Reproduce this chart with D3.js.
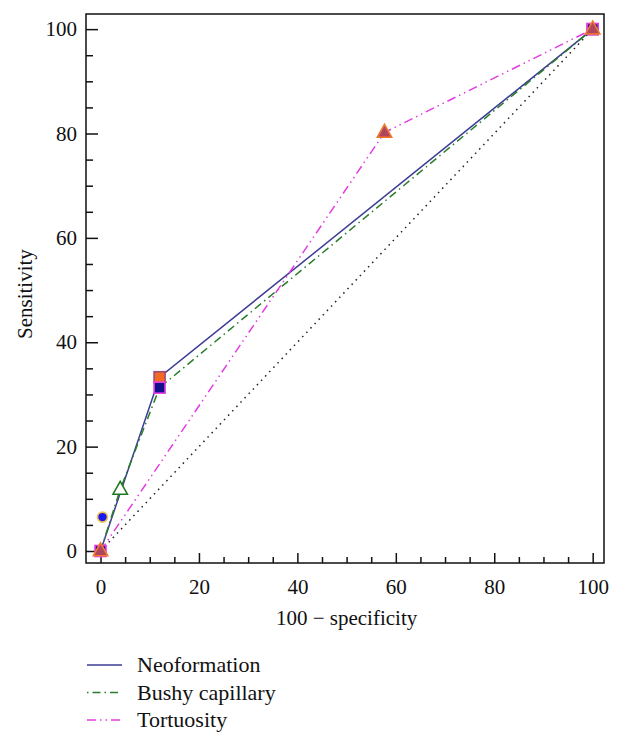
<!DOCTYPE html>
<html><head><meta charset="utf-8">
<script src="https://cdn.jsdelivr.net/npm/d3@7"></script>
<style>body{margin:0;background:#fff}svg{display:block}</style>
</head><body>
<svg id="c" width="621" height="744"></svg>
<script>
// data
const neoX = [0, 12, 100];
const neoY = [0, 33.3, 100];
const bushyX = [0, 4, 12, 100];
const bushyY = [0, 11.8, 31.3, 100];
const tortX = [0, 57.7, 100];
const tortY = [0, 80.2, 100];
const extraX = [0.4];
const extraY = [6.5];
const refX = [0, 100];
const refY = [0, 100];
const majorTicks = [0, 20, 40, 60, 80, 100];
const minorTicks = [5,10,15,25,30,35,45,50,55,65,70,75,85,90,95];
const seriesNames = ["Neoformation", "Bushy capillary", "Tortuosity"];
const xTitle = "100 \u2212 specificity";
const yTitle = "Sensitivity";

const FONT = "'Liberation Serif', 'Times New Roman', serif";
const svg = d3.select("#c");
const x = d3.scaleLinear().domain([-2.95, 102.3]).range([86, 604]);
const y = d3.scaleLinear().domain([-2.3, 102.9]).range([563, 14]);
const fs = 21;

// axes
const gx = svg.append("g").attr("transform", `translate(0,${y.range()[0]})`)
  .call(d3.axisBottom(x).tickValues(majorTicks).tickSize(-10).tickPadding(16).tickFormat(d3.format("d")));
const gxm = svg.append("g").attr("transform", `translate(0,${y.range()[0]})`)
  .call(d3.axisBottom(x).tickValues(minorTicks).tickSize(-6).tickFormat(""));
const gy = svg.append("g").attr("transform", `translate(${x.range()[0]},0)`)
  .call(d3.axisLeft(y).tickValues(majorTicks).tickSize(-12).tickPadding(9).tickFormat(d3.format("d")));
const gym = svg.append("g").attr("transform", `translate(${x.range()[0]},0)`)
  .call(d3.axisLeft(y).tickValues(minorTicks).tickSize(-7).tickFormat(""));
[gx, gxm, gy, gym].forEach(g => {
  g.attr("font-family", null).attr("font-size", null);
  g.select(".domain").remove();
  g.selectAll("line").attr("stroke", "#111").attr("stroke-width", 1.5);
  g.selectAll("text").style("font-size", fs + "px").style("font-family", FONT).attr("fill", "#111");
});

// frame
svg.append("rect").attr("x", x.range()[0]).attr("y", y.range()[1])
  .attr("width", x.range()[1] - x.range()[0]).attr("height", y.range()[0] - y.range()[1])
  .attr("fill", "none").attr("stroke", "#111").attr("stroke-width", 1.5);

// titles
svg.append("text").attr("x", (x(0) + x(100)) / 2).attr("y", 625).attr("text-anchor", "middle")
  .style("font-size", fs + "px").style("font-family", FONT).attr("fill", "#111").text(xTitle);
svg.append("text").attr("transform", `translate(32,${(y(0) + y(100)) / 2 + 4}) rotate(-90)`)
  .attr("text-anchor", "middle").style("font-size", fs + "px").style("font-family", FONT).attr("fill", "#111").text(yTitle);

const line = d3.line().x(d => x(d[0])).y(d => y(d[1]));
const zip = (a, b) => a.map((v, i) => [v, b[i]]);

// reference diagonal
svg.append("path").attr("d", line(zip(refX, refY))).attr("fill", "none")
  .attr("stroke", "#222").attr("stroke-width", 1.5).attr("stroke-dasharray", "1.5 4.5");

const styles = [
  {color: "#3d3d96", dash: null},
  {color: "#2a7d2a", dash: "8 4 1.5 4"},
  {color: "#e23ce2", dash: "9 4 1.5 4 1.5 4"}
];
const series = [zip(neoX, neoY), zip(bushyX, bushyY), zip(tortX, tortY)];
series.forEach((s, i) => {
  svg.append("path").attr("d", line(s)).attr("fill", "none")
    .attr("stroke", styles[i].color).attr("stroke-width", 1.5)
    .attr("stroke-dasharray", styles[i].dash);
});

// markers
const sq = 11;
function square(px, py, fill, stroke) {
  svg.append("rect").attr("x", x(px) - sq / 2).attr("y", y(py) - sq / 2)
    .attr("width", sq).attr("height", sq).attr("fill", fill).attr("stroke", stroke).attr("stroke-width", 1.6);
}
function tri(px, py, fill, stroke) {
  const cx = x(px), cy = y(py), r = 8;
  svg.append("path").attr("d", `M${cx},${cy - r}L${cx + r * 0.9},${cy + r * 0.6}L${cx - r * 0.9},${cy + r * 0.6}Z`)
    .attr("fill", fill).attr("stroke", stroke).attr("stroke-width", 1.6);
}
square(neoX[1], neoY[1], "#f26a22", "#9c4a80");
square(neoX[2], neoY[2], "#f26a22", "#9c4a80");
square(bushyX[0], bushyY[0], "#10108a", "#e83ce8");
tri(bushyX[1], bushyY[1], "#fff", "#1f7a1f");
square(bushyX[2], bushyY[2], "#10108a", "#e83ce8");
square(bushyX[3], bushyY[3], "#10108a", "#e83ce8");
tri(tortX[0], tortY[0], "#b0455e", "#f07a2a");
tri(tortX[1], tortY[1], "#b0455e", "#f07a2a");
tri(tortX[2], tortY[2], "#b0455e", "#f07a2a");
svg.append("circle").attr("cx", x(extraX[0])).attr("cy", y(extraY[0])).attr("r", 5)
  .attr("fill", "#1a1af0").attr("stroke", "#f0c050").attr("stroke-width", 1.6);

// legend
const lg = svg.append("g");
seriesNames.forEach((n, i) => {
  const ly = 665 + i * 27.5;
  lg.append("line").attr("x1", 87).attr("x2", 122).attr("y1", ly).attr("y2", ly)
    .attr("stroke", styles[i].color).attr("stroke-width", 1.5)
    .attr("stroke-dasharray", i === 0 ? null : (i === 1 ? "1.5 4 8 4" : "9 4 1.5 4 1.5 4"));
  lg.append("text").attr("x", 137).attr("y", ly + 7).style("font-size", "22px")
    .style("font-family", FONT).attr("fill", "#111").text(n);
});
</script>
</body></html>
